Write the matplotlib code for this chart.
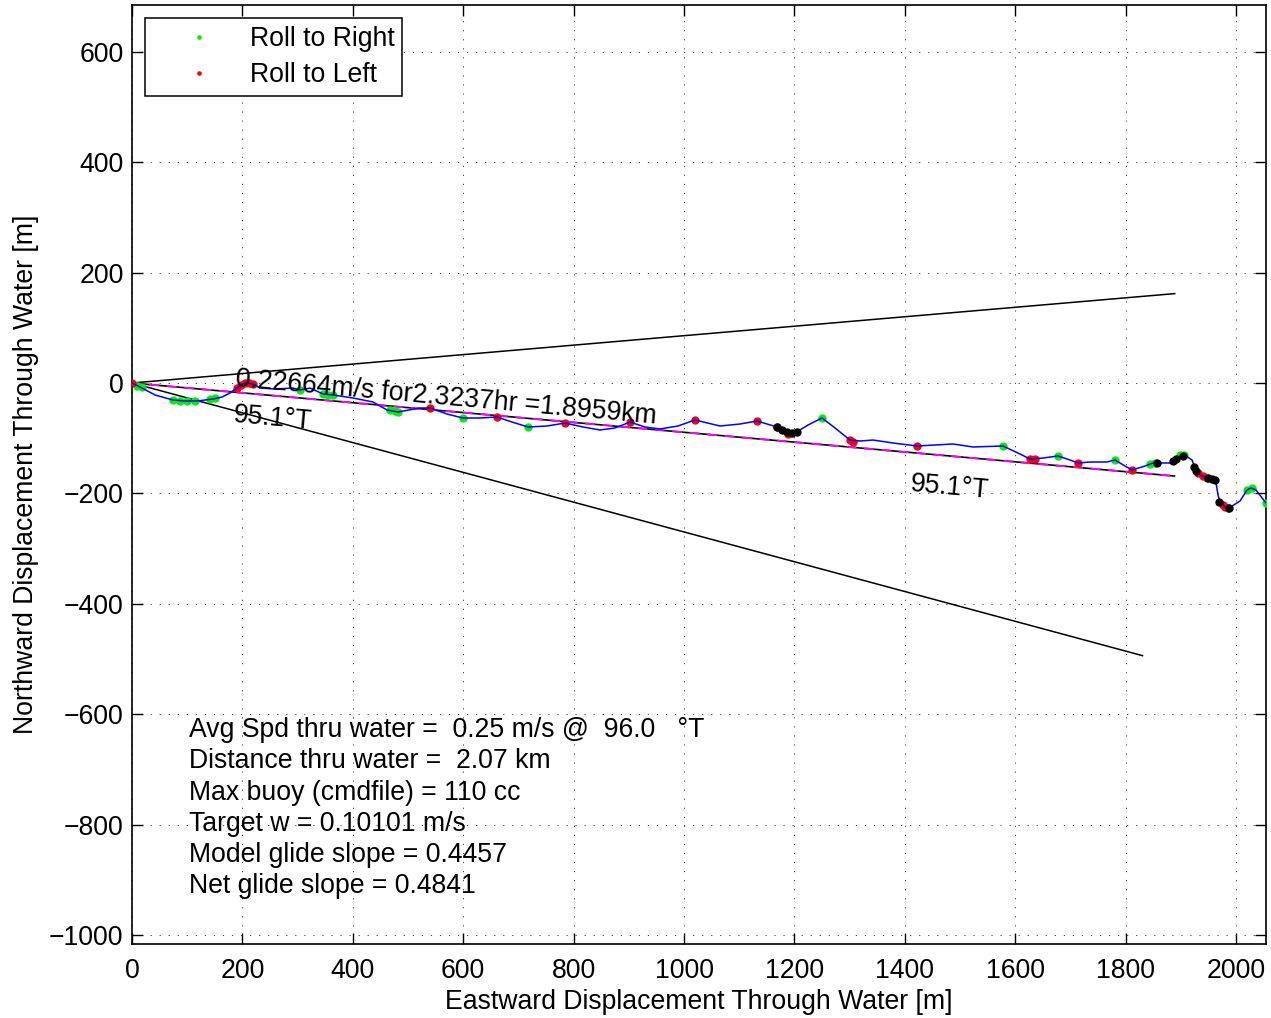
import numpy as np
import matplotlib
matplotlib.use("Agg")
import matplotlib.pyplot as plt

# ---------------- data ----------------
track_x = [0, 14.5, 41.7, 74.3, 96.0, 117.8, 132.2, 146.7, 163.0, 177.5, 190.2, 201.1, 210.1, 219.2,
           231.9, 259.1, 291.7, 304.3, 322.5, 346.0, 364.1, 400.4, 436.6, 462.0, 481.9, 521.7, 539.9,
           570.7, 599.6, 630.4, 661.2, 688.4, 717.4, 751.8, 784.4, 817.0, 847.8, 875.0, 902.2, 929.3,
           956.5, 989.1, 1019.9, 1065.2, 1101.4, 1132.2, 1168.5, 1188.4, 1201.1, 1224.6, 1250.0, 1273.6,
           1300.7, 1318.8, 1342.4, 1378.6, 1422.1, 1487.3, 1523.6, 1577.9, 1608.7, 1626.8, 1650.4,
           1677.5, 1699.3, 1713.8, 1735.5, 1766.3, 1780.8, 1798.9, 1811.6, 1835.1, 1849.6, 1856.9,
           1880.4, 1891.3, 1902.2, 1909.4, 1920.3, 1925.7, 1934.8, 1947.5, 1958.3, 1963.8, 1967.4,
           1971.0, 1980.1, 1987.3, 2007.2, 2019.9, 2027.2, 2036.2, 2054.3]
track_y = [0, -7.2, -21.7, -30.8, -32.6, -32.6, -30.8, -29.0, -25.4, -18.1, -9.1, -1.8, 0, -1.8,
           -9.1, -10.9, -9.1, -12.7, -9.1, -19.9, -21.7, -27.2, -34.4, -48.9, -52.5, -45.3, -45.3,
           -56.2, -63.4, -63.4, -61.6, -70.7, -79.7, -77.9, -72.5, -79.7, -85.1, -81.5, -70.7, -79.7,
           -83.3, -77.9, -67.0, -77.9, -74.3, -68.8, -79.7, -92.4, -90.6, -76.1, -63.4, -81.5,
           -103.3, -105.1, -103.3, -108.7, -114.1, -110.5, -115.9, -114.1, -128.6, -137.7, -135.9,
           -132.2, -139.5, -144.9, -143.1, -143.1, -139.5, -150.4, -157.6, -150.4, -144.9, -144.9,
           -144.9, -137.7, -130.4, -132.2, -139.5, -154.0, -166.7, -172.1, -175.7, -181.2, -202.9,
           -215.6, -224.6, -226.4, -213.8, -193.8, -190.2, -193.8, -217.4]

right_x = [9.1, 18.1, 74.3, 87.0, 99.6, 114.1, 141.3, 150.4, 304.3, 346.0, 355.1, 364.1, 467.4,
           476.4, 481.9, 599.6, 717.4, 1250.0, 1577.9, 1677.5, 1780.8, 1844.2, 1853.3, 1898.6,
           1905.8, 2019.9, 2029.0, 2054.3]
right_y = [-5.4, -7.2, -30.8, -32.6, -32.6, -32.6, -29.0, -27.2, -12.7, -19.9, -21.7, -21.7, -48.9,
           -50.7, -52.5, -63.4, -79.7, -63.4, -114.1, -132.2, -139.5, -146.7, -144.9, -130.4,
           -130.4, -193.8, -190.2, -217.4]

left_x = [0, 190.2, 197.5, 204.7, 212.0, 219.2, 539.9, 661.2, 784.4, 902.2, 1019.9, 1132.2, 1168.5,
          1188.4, 1300.7, 1306.2, 1422.1, 1626.8, 1635.9, 1713.8, 1811.6, 1931.2, 1940.2, 1947.5,
          1976.4, 1980.1, 1985.5]
left_y = [0, -9.1, -3.6, 0, 0, -1.8, -45.3, -61.6, -72.5, -70.7, -67.0, -68.8, -79.7, -92.4,
          -103.3, -106.9, -114.1, -137.7, -137.7, -144.9, -157.6, -163.0, -168.5, -172.1, -221.0,
          -224.6, -226.4]

other_x = [1168.5, 1177.5, 1186.6, 1195.7, 1204.7, 1856.9, 1885.9, 1891.3, 1904.0, 1923.9, 1927.5,
           1949.3, 1956.5, 1962.0, 1969.2, 1987.3]
other_y = [-79.7, -85.1, -88.8, -90.6, -88.8, -144.9, -141.3, -137.7, -132.2, -152.2, -159.4,
           -172.1, -173.9, -175.7, -215.6, -226.4]

net_bearing = 95.1        # deg True
cone_bearings = [85.1, 105.1]
net_length = 1895.9       # m

xticks = [0, 200, 400, 600, 800, 1000, 1200, 1400, 1600, 1800, 2000]
yticks = [-1000, -800, -600, -400, -200, 0, 200, 400, 600]

speed_label = "0.22664m/s for2.3237hr =1.8959km"
bearing_label = "95.1\u00b0T"
info_lines = [
    "Avg Spd thru water =  0.25 m/s @  96.0   \u00b0T",
    "Distance thru water =  2.07 km",
    "Max buoy (cmdfile) = 110 cc",
    "Target w = 0.10101 m/s",
    "Model glide slope = 0.4457",
    "Net glide slope = 0.4841",
]

# ---------------- figure ----------------
plt.rcParams['font.family'] = ['Liberation Sans', 'DejaVu Sans']
FS = 19.2
fig = plt.figure(figsize=(12.71, 10.18), dpi=100)
ax = fig.add_axes([132/1271, 74/1018, 1134/1271, 939/1018])

# cone and net lines
for b in cone_bearings:
    ex = net_length * np.sin(np.radians(b))
    ey = net_length * np.cos(np.radians(b))
    ax.plot([0, ex], [0, ey], color='k', lw=1.1, zorder=2)
nx = net_length * np.sin(np.radians(net_bearing))
ny = net_length * np.cos(np.radians(net_bearing))
ax.plot([0, nx], [0, ny], color='k', lw=1.2, zorder=2)
ax.plot([0, nx], [0, ny], color='#ff00ff', lw=1.4, linestyle=(0, (5, 4)), zorder=2.1)

# roll markers
ax.plot(right_x, right_y, 'o', color='#00ee00', ms=6, mec='none', zorder=3, label='Roll to Right')
ax.plot(left_x, left_y, 'o', color='#ff0000', ms=6, mec='none', zorder=3, label='Roll to Left')
# trajectory
ax.plot(track_x, track_y, color='#0000ff', lw=1.1, zorder=4)
ax.plot(other_x, other_y, 'o', color='k', ms=6, mec='none', zorder=5)

# labels on lines
ax.annotate(speed_label, xy=(187, -5), rotation=-5.1, rotation_mode='anchor',
            ha='left', va='baseline', fontsize=FS, zorder=6)
ax.annotate(bearing_label, xy=(183, -71), rotation=-5.1, rotation_mode='anchor',
            ha='left', va='baseline', fontsize=FS, zorder=6)
ax.annotate(bearing_label, xy=(1409, -196), rotation=-5.1, rotation_mode='anchor',
            ha='left', va='baseline', fontsize=FS, zorder=6)

for i, line in enumerate(info_lines):
    ax.annotate(line, xy=(103.3, -641.3), xytext=(0, -i * 22.5), textcoords='offset points',
                ha='left', va='baseline', fontsize=FS, zorder=6)

ax.set_xlim(0, 2054.3)
ax.set_ylim(-1016.3, 684.8)
ax.set_xticks(xticks)
ax.set_yticks(yticks)
ax.tick_params(direction='in', length=8, width=1.0, top=True, right=True, labelsize=FS)
ax.tick_params(axis='x', pad=10)
ax.tick_params(axis='y', pad=6)
for s in ax.spines.values():
    s.set_linewidth(1.2)
ax.grid(True, color='0.25', lw=0.7, linestyle=(0, (1.2, 8.1)))
ax.set_axisbelow(True)

ax.set_xlabel("Eastward Displacement Through Water [m]", fontsize=FS, labelpad=4)
ax.set_ylabel("Northward Displacement Through Water [m]", fontsize=FS, labelpad=7)

leg = ax.legend(loc='upper left', bbox_to_anchor=(13/1134, 1 - 13/939), borderaxespad=0,
                fontsize=FS, frameon=True, fancybox=False, edgecolor='k', framealpha=1,
                handlelength=3.45, handletextpad=0.17, borderpad=0.3, labelspacing=0.38,
                markerscale=0.55)
leg.get_frame().set_linewidth(1.1)

fig.savefig('out.png', dpi=100)
